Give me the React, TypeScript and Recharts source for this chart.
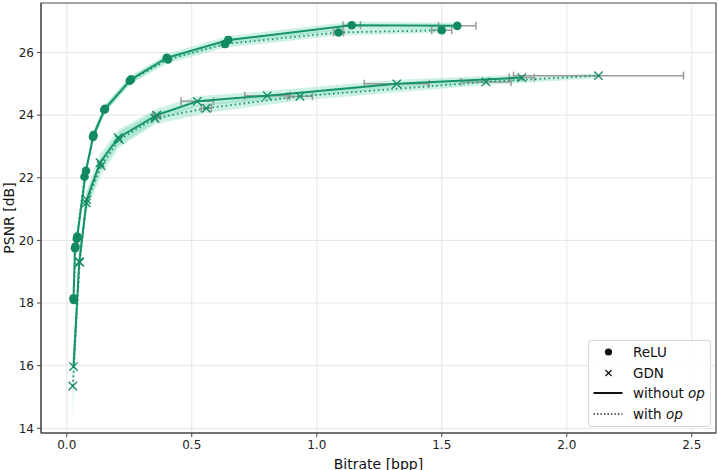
import React from 'react';
import {
  ComposedChart, Line, Area, Scatter, XAxis, YAxis, CartesianGrid, ErrorBar, ReferenceArea,
} from 'recharts';

// ---- data ----
const reluX = [0.027, 0.033, 0.042, 0.077, 0.107, 0.153, 0.257, 0.400, 0.646, 1.140, 1.562];
const reluY = [18.15, 19.75, 20.12, 22.22, 23.36, 24.20, 25.14, 25.83, 26.40, 26.87, 26.85];
const reluCi = [0.35, 0.25, 0.2, 0.18, 0.15, 0.13, 0.12, 0.12, 0.13, 0.12, 0.1];
const reluErr = [0, 0, 0, 0, 0, 0, 0, 0, 0.01, 0.035, 0.075];

const reluOpX = [0.028, 0.035, 0.040, 0.071, 0.105, 0.150, 0.252, 0.405, 0.633, 1.087, 1.500];
const reluOpY = [18.10, 19.80, 20.05, 22.03, 23.30, 24.17, 25.10, 25.78, 26.27, 26.64, 26.71];
const reluOpCi = [0.35, 0.25, 0.2, 0.18, 0.15, 0.13, 0.12, 0.12, 0.12, 0.1, 0.08];
const reluOpErr = [0, 0, 0, 0, 0, 0, 0, 0, 0.01, 0.02, 0.04];

const gdnX = [0.027, 0.050, 0.080, 0.133, 0.206, 0.360, 0.522, 0.802, 1.320, 1.820];
const gdnY = [15.97, 19.32, 21.30, 22.48, 23.28, 24.00, 24.44, 24.62, 25.00, 25.20];
const gdnCi = [0.6, 0.3, 0.3, 0.28, 0.25, 0.2, 0.16, 0.15, 0.13, 0.1];
const gdnErr = [0, 0, 0, 0, 0, 0.015, 0.065, 0.09, 0.13, 0.05];

const gdnOpX = [0.024, 0.052, 0.078, 0.138, 0.210, 0.353, 0.558, 0.933, 1.677, 2.127];
const gdnOpY = [15.35, 19.30, 21.20, 22.38, 23.22, 23.90, 24.22, 24.60, 25.06, 25.26];
const gdnOpCi = [0.95, 0.3, 0.3, 0.28, 0.25, 0.2, 0.15, 0.13, 0.1, 0.08];
const gdnOpErr = [0, 0, 0, 0, 0, 0.01, 0.02, 0.05, 0.10, 0.34];

const xTicks = [0, 0.5, 1.0, 1.5, 2.0, 2.5];
const yTicks = [14, 16, 18, 20, 22, 24, 26];

// ---- helpers to build series tables ----
type Pt = { x: number; y: number; range: [number, number]; ex: number };
const build = (xs: number[], ys: number[], ci: number[], err: number[]): Pt[] =>
  xs.map((x, i) => ({ x, y: ys[i], range: [ys[i] - ci[i], ys[i] + ci[i]], ex: err[i] }));

const relu = build(reluX, reluY, reluCi, reluErr);
const reluOp = build(reluOpX, reluOpY, reluOpCi, reluOpErr);
const gdn = build(gdnX, gdnY, gdnCi, gdnErr);
const gdnOp = build(gdnOpX, gdnOpY, gdnOpCi, gdnOpErr);

const LINE = '#15936a';
const MARK = '#128a60';
const BAND = '#5cd0a8';
const ERR = '#9a9a9a';
const FONT = '"DejaVu Sans", sans-serif';

const Circle = (p: any) => <circle cx={p.cx} cy={p.cy} r={4.3} fill={MARK} />;
const Cross = (p: any) => {
  const s = 4.2;
  return (
    <g stroke={MARK} strokeWidth={1.3}>
      <line x1={p.cx - s} y1={p.cy - s} x2={p.cx + s} y2={p.cy + s} />
      <line x1={p.cx - s} y1={p.cy + s} x2={p.cx + s} y2={p.cy - s} />
    </g>
  );
};
const Nothing = () => <g />;

const XMIN = -0.103, XMAX = 2.597, YMIN = 13.85, YMAX = 27.58;

const legendRows = [
  { k: 'dot', t: <>ReLU</> },
  { k: 'x', t: <>GDN</> },
  { k: 'solid', t: <>without <i>op</i></> },
  { k: 'dotted', t: <>with <i>op</i></> },
];

const Legend = () => (
  <div
    style={{
      position: 'absolute', left: 588, top: 340, width: 123, height: 87,
      border: '1px solid #d6d6d6', borderRadius: 3, background: 'rgba(255,255,255,0.85)',
      fontFamily: FONT, fontSize: 13.5, color: '#111', boxSizing: 'border-box',
    }}
  >
    {legendRows.map((e, i) => (
      <div key={i} style={{ position: 'absolute', top: 11 + i * 20.6 - 10, left: 0, height: 20, width: 121 }}>
        <svg width={36} height={20} style={{ position: 'absolute', left: 3, top: 0 }}>
          {e.k === 'dot' && <circle cx={16.5} cy={10} r={3.6} fill="#111" />}
          {e.k === 'x' && (
            <g stroke="#111" strokeWidth={1.2}>
              <line x1={13.5} y1={7} x2={19.5} y2={13} />
              <line x1={13.5} y1={13} x2={19.5} y2={7} />
            </g>
          )}
          {e.k === 'solid' && <line x1={1.5} y1={10} x2={30.5} y2={10} stroke="#111" strokeWidth={2} />}
          {e.k === 'dotted' && <line x1={1.5} y1={10} x2={30.5} y2={10} stroke="#111" strokeWidth={1.3} strokeDasharray="1.3 2.2" />}
        </svg>
        <span style={{ position: 'absolute', left: 44, top: 0, lineHeight: '20px', whiteSpace: 'nowrap' }}>{e.t}</span>
      </div>
    ))}
  </div>
);

export default function App() {
  return (
    <div style={{ position: 'absolute', left: 0, top: 0, width: 718, height: 470, background: '#fff', fontFamily: FONT }}>
      <ComposedChart width={718} height={470} margin={{ top: 3, right: 2, left: 0, bottom: 0 }}>
        <CartesianGrid stroke="#e6e6e6" strokeWidth={1} />
        <XAxis
          type="number" dataKey="x" domain={[XMIN, XMAX]} ticks={xTicks} allowDataOverflow
          tickFormatter={(v: number) => v.toFixed(1)} height={37}
          tick={{ fill: '#222', fontSize: 12, fontFamily: FONT }} tickSize={4} tickMargin={3}
          axisLine={{ stroke: '#444' }} tickLine={{ stroke: '#444' }}
          label={{ value: 'Bitrate [bpp]', position: 'insideBottom', offset: 1, fill: '#111', fontSize: 14, fontFamily: FONT }}
        />
        <YAxis
          type="number" domain={[YMIN, YMAX]} ticks={yTicks} allowDataOverflow width={41}
          tick={{ fill: '#222', fontSize: 12, fontFamily: FONT }} tickSize={4} tickMargin={3}
          axisLine={{ stroke: '#444' }} tickLine={{ stroke: '#444' }}
          label={{ value: 'PSNR [dB]', angle: -90, position: 'insideLeft', offset: 9, fill: '#111', fontSize: 14, fontFamily: FONT, style: { textAnchor: 'middle' } }}
        />
        <ReferenceArea x1={XMIN} x2={XMAX} y1={YMIN} y2={YMAX} fill="none" fillOpacity={0} stroke="#555" strokeWidth={1.2} ifOverflow="visible" />

        <Area data={relu} dataKey="range" type="linear" stroke="none" fill={BAND} fillOpacity={0.3} isAnimationActive={false} />
        <Area data={reluOp} dataKey="range" type="linear" stroke="none" fill={BAND} fillOpacity={0.3} isAnimationActive={false} />
        <Area data={gdn} dataKey="range" type="linear" stroke="none" fill={BAND} fillOpacity={0.3} isAnimationActive={false} />
        <Area data={gdnOp} dataKey="range" type="linear" stroke="none" fill={BAND} fillOpacity={0.3} isAnimationActive={false} />

        <Scatter data={relu.filter(d => d.ex > 0)} dataKey="y" shape={Nothing} isAnimationActive={false}>
          <ErrorBar dataKey="ex" direction="x" width={4} stroke={ERR} strokeWidth={1.5} />
        </Scatter>
        <Scatter data={reluOp.filter(d => d.ex > 0)} dataKey="y" shape={Nothing} isAnimationActive={false}>
          <ErrorBar dataKey="ex" direction="x" width={4} stroke={ERR} strokeWidth={1.5} />
        </Scatter>
        <Scatter data={gdn.filter(d => d.ex > 0)} dataKey="y" shape={Nothing} isAnimationActive={false}>
          <ErrorBar dataKey="ex" direction="x" width={4} stroke={ERR} strokeWidth={1.5} />
        </Scatter>
        <Scatter data={gdnOp.filter(d => d.ex > 0)} dataKey="y" shape={Nothing} isAnimationActive={false}>
          <ErrorBar dataKey="ex" direction="x" width={4} stroke={ERR} strokeWidth={1.5} />
        </Scatter>

        <Line data={relu} dataKey="y" type="linear" stroke={LINE} strokeWidth={2} dot={false} isAnimationActive={false} />
        <Line data={reluOp} dataKey="y" type="linear" stroke={LINE} strokeWidth={1.8} strokeDasharray="1.5 3" dot={false} isAnimationActive={false} />
        <Line data={gdn} dataKey="y" type="linear" stroke={LINE} strokeWidth={2} dot={false} isAnimationActive={false} />
        <Line data={gdnOp} dataKey="y" type="linear" stroke={LINE} strokeWidth={1.8} strokeDasharray="1.5 3" dot={false} isAnimationActive={false} />

        <Scatter data={relu} dataKey="y" shape={Circle} isAnimationActive={false} />
        <Scatter data={reluOp} dataKey="y" shape={Circle} isAnimationActive={false} />
        <Scatter data={gdn} dataKey="y" shape={Cross} isAnimationActive={false} />
        <Scatter data={gdnOp} dataKey="y" shape={Cross} isAnimationActive={false} />
      </ComposedChart>
      <Legend />
    </div>
  );
}
